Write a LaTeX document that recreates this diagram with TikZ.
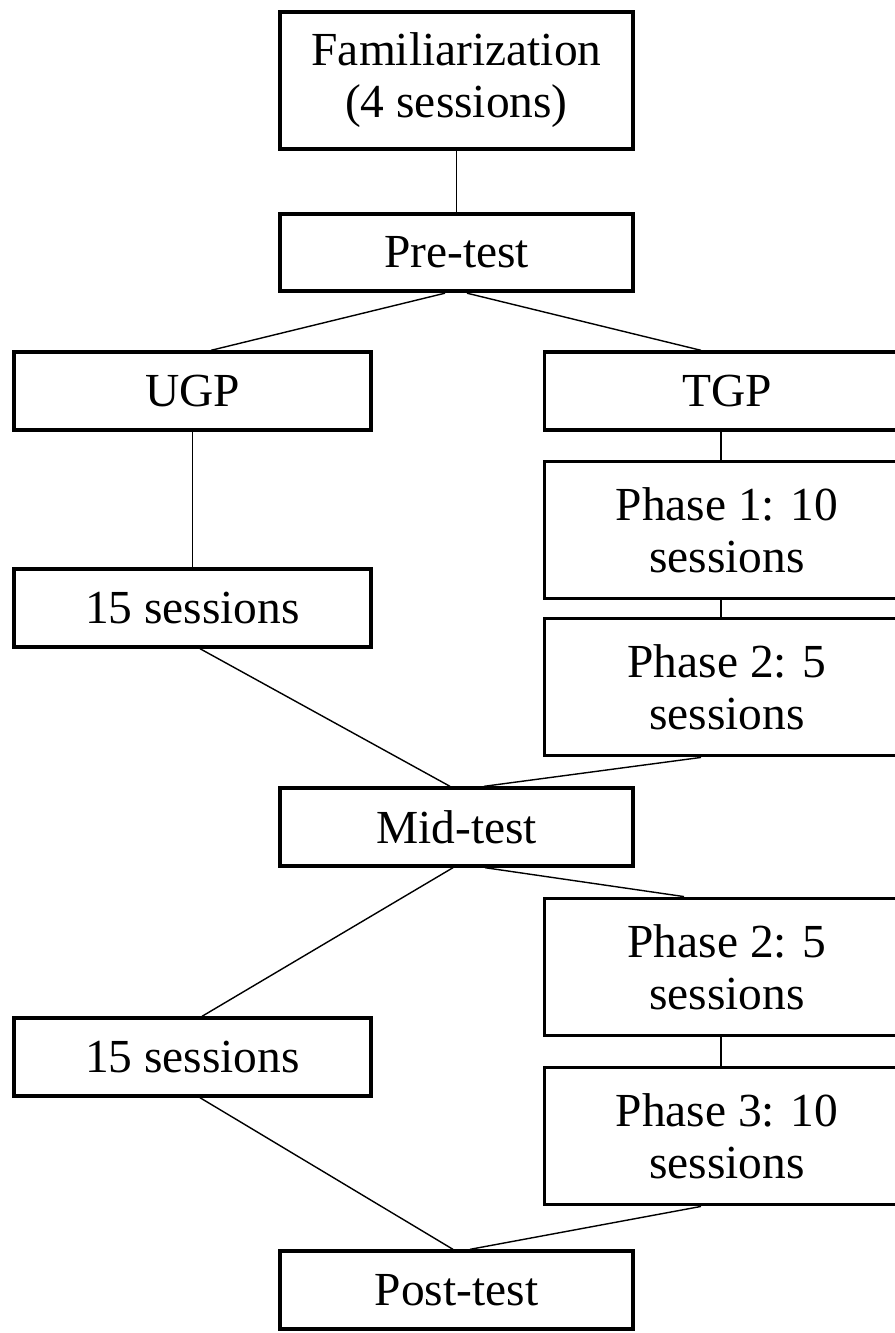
\documentclass[tikz,border=0pt]{standalone}
\usepackage{fontspec}
\setmainfont{Liberation Serif}
\usetikzlibrary{positioning,calc}

\begin{document}
\begin{tikzpicture}[x=0.02cm, y=-0.02cm,
    every node/.style={font=\fontsize{27}{29.5}\selectfont},
    stage/.style={draw,line width=2.2pt,align=center,inner sep=0pt},
    short/.style={minimum height=1.55cm},
    tall/.style={minimum height=2.74cm},
    link/.style={line width=0.8pt}]
    \useasboundingbox (0,0) rectangle (894,1333);

    % centre column
    \node[stage,tall,minimum width=7.06cm] (famil) at (456.5,80.5) {Familiarization\\(4 sessions)};
    \node[stage,short,minimum width=7.06cm] (pretest) at (456.5,252.5) {Pre-test};
    \node[stage,short,minimum width=7.06cm] (midtest) at (456.5,827) {Mid-test};
    \node[stage,short,minimum width=7.06cm] (posttest) at (456.5,1290) {Post-test};

    % UGP column
    \node[stage,short,minimum width=7.14cm] (ugp) at (192.5,391) {UGP};
    \node[stage,short,minimum width=7.14cm] (ugpA) at (192.5,608) {15 sessions};
    \node[stage,short,minimum width=7.14cm] (ugpB) at (192.5,1057) {15 sessions};

    % TGP column (runs off the right edge)
    \node[stage,short,minimum width=7.3cm] (tgp) at (727,391) {TGP};
    \node[stage,tall,minimum width=7.3cm] (phaseA) at (727,530) {Phase 1: 10\\sessions};
    \node[stage,tall,minimum width=7.3cm] (phaseB) at (727,687) {Phase 2: 5\\sessions};
    \node[stage,tall,minimum width=7.3cm] (phaseC) at (727,967) {Phase 2: 5\\sessions};
    \node[stage,tall,minimum width=7.3cm] (phaseD) at (727,1136) {Phase 3: 10\\sessions};

    \draw[link] (famil) -- (pretest);
    \draw[link] ([xshift=-0.23cm]pretest.south) -- ([xshift=0.37cm]ugp.north);
    \draw[link] ([xshift=0.21cm]pretest.south) -- ([xshift=-0.52cm]tgp.north);
    \draw[link] (ugp) -- (ugpA);
    \draw[link] ([xshift=-0.12cm]tgp.south) -- ([xshift=-0.12cm]phaseA.north);
    \draw[link] ([xshift=-0.12cm]phaseA.south) -- ([xshift=-0.12cm]phaseB.north);
    \draw[link] ([xshift=0.15cm]ugpA.south) -- ([xshift=-0.13cm]midtest.north);
    \draw[link] ([xshift=-0.52cm]phaseB.south) -- ([xshift=0.55cm]midtest.north);
    \draw[link] ([xshift=-0.07cm]midtest.south) -- ([xshift=0.19cm]ugpB.north);
    \draw[link] ([xshift=0.57cm]midtest.south) -- ([xshift=-0.86cm]phaseC.north);
    \draw[link] ([xshift=-0.12cm]phaseC.south) -- ([xshift=-0.12cm]phaseD.north);
    \draw[link] ([xshift=0.15cm]ugpB.south) -- ([xshift=-0.07cm]posttest.north);
    \draw[link] ([xshift=-0.52cm]phaseD.south) -- ([xshift=0.27cm]posttest.north);
  \end{tikzpicture}
\end{document}
